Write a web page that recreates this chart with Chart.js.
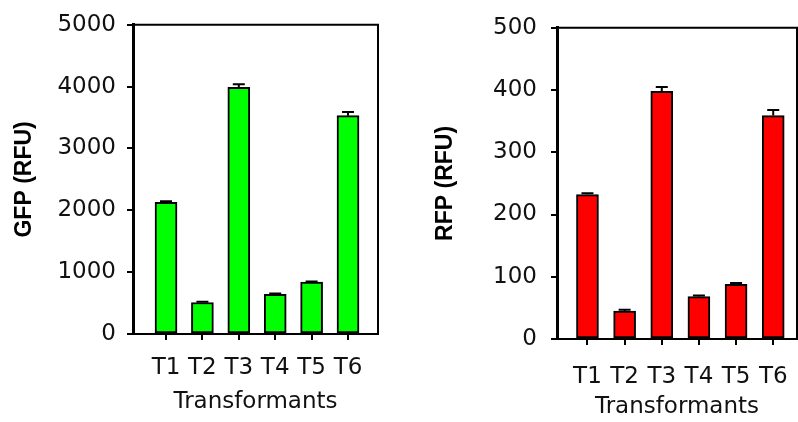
<!DOCTYPE html>
<html>
<head>
<meta charset="utf-8">
<script src="https://cdn.jsdelivr.net/npm/chart.js@4.4.0/dist/chart.umd.min.js"></script>
<style>
body { margin: 0; background: #fff; }
canvas { position: absolute; top: 0; }
</style>
</head>
<body>
<canvas id="gfp" width="400" height="422" style="left:0"></canvas>
<canvas id="rfp" width="398" height="422" style="left:400px"></canvas>
<script>
// Données
const labels = ['T1', 'T2', 'T3', 'T4', 'T5', 'T6'];
const gfpValues = [2130, 510, 3990, 640, 840, 3530];
const gfpErrors = [15, 10, 50, 15, 10, 60];
const rfpValues = [232, 45, 398, 68, 88, 359];
const rfpErrors = [2, 2, 7, 2, 2, 9];

// Barres d'erreur (partie haute seulement, comme sur la figure)
const errorBars = {
  id: 'errorBars',
  afterDatasetsDraw(chart) {
    const ctx = chart.ctx;
    const errs = chart.options.plugins.errorBars.errors;
    const meta = chart.getDatasetMeta(0);
    const y = chart.scales.y;
    ctx.save();
    ctx.strokeStyle = '#000';
    ctx.lineWidth = 2;
    meta.data.forEach((bar, i) => {
      const v = chart.data.datasets[0].data[i].y;
      const top = y.getPixelForValue(v + errs[i]);
      ctx.beginPath();
      ctx.moveTo(bar.x, bar.y);
      ctx.lineTo(bar.x, top);
      ctx.moveTo(bar.x - 6, top);
      ctx.lineTo(bar.x + 6, top);
      ctx.stroke();
    });
    ctx.restore();
  }
};

// Cadre haut et droit
const frame = {
  id: 'frame',
  afterDatasetsDraw(chart) {
    const { ctx, chartArea: a } = chart;
    ctx.save();
    ctx.strokeStyle = '#000';
    ctx.lineWidth = 2;
    ctx.beginPath();
    ctx.moveTo(a.left, a.top);
    ctx.lineTo(a.right, a.top);
    ctx.lineTo(a.right, a.bottom);
    ctx.stroke();
    ctx.restore();
  }
};

function makeChart(id, values, errors, color, title, yMax, step, p) {
  return new Chart(document.getElementById(id), {
    type: 'bar',
    data: {
      datasets: [{
        data: values.map((v, i) => ({ x: i + 1, y: v })),
        backgroundColor: color,
        borderColor: '#000',
        borderWidth: 2,
        borderSkipped: false,
        barThickness: 22
      }]
    },
    options: {
      responsive: false,
      devicePixelRatio: 1,
      animation: false,
      layout: { padding: { top: p.top, right: p.right, left: 0, bottom: 0 } },
      scales: {
        x: {
          type: 'linear',
          offset: false,
          min: p.xmin,
          max: p.xmax,
          afterBuildTicks: (s) => { s.ticks = labels.map((l, i) => ({ value: i + 1 })); },
          afterFit: (s) => { s.height = p.xh; s.paddingLeft = 0; s.paddingRight = 0; },
          grid: { offset: false, drawOnChartArea: false, tickLength: 6, color: '#000', lineWidth: 2 },
          border: { display: true, color: '#000', width: 2 },
          ticks: {
            autoSkip: false, maxRotation: 0, padding: p.xPad, color: '#111',
            font: { family: 'DejaVu Sans', size: 23 },
            callback: (v) => labels[v - 1] || ''
          },
          title: {
            display: true, text: 'Transformants', color: '#111',
            font: { family: 'DejaVu Sans', size: 23 },
            padding: { top: 2, bottom: p.titleBottom }
          }
        },
        y: {
          min: 0,
          max: yMax,
          afterFit: (s) => { s.width = p.yw; },
          grid: { drawOnChartArea: false, tickLength: 6, color: '#000', lineWidth: 2 },
          border: { display: true, color: '#000', width: 3 },
          ticks: {
            stepSize: step, padding: p.tickPad, color: '#111',
            font: { family: 'DejaVu Sans', size: 23 },
            callback: (v) => String(v)
          },
          title: {
            display: true, text: title, color: '#000',
            font: { family: 'Liberation Sans', size: 23, weight: 'bold' },
            padding: { top: p.titlePad, bottom: 0 }
          }
        }
      },
      plugins: {
        legend: { display: false },
        tooltip: { enabled: false },
        errorBars: { errors: errors }
      }
    },
    plugins: [errorBars, frame]
  });
}

makeChart('gfp', gfpValues, gfpErrors, '#00FF00', 'GFP (RFU)', 5000, 1000,
  { top: 20, right: 22, xh: 88, yw: 133, xmin: 0.093, xmax: 6.824, tickPad: 11, titlePad: 11, xPad: 14, titleBottom: 6 });
makeChart('rfp', rfpValues, rfpErrors, '#FF0000', 'RFP (RFU)', 500, 100,
  { top: 21, right: 1, xh: 83, yw: 157, xmin: 0.18, xmax: 6.64, tickPad: 14, titlePad: 32, xPad: 18, titleBottom: 1 });
</script>
</body>
</html>
